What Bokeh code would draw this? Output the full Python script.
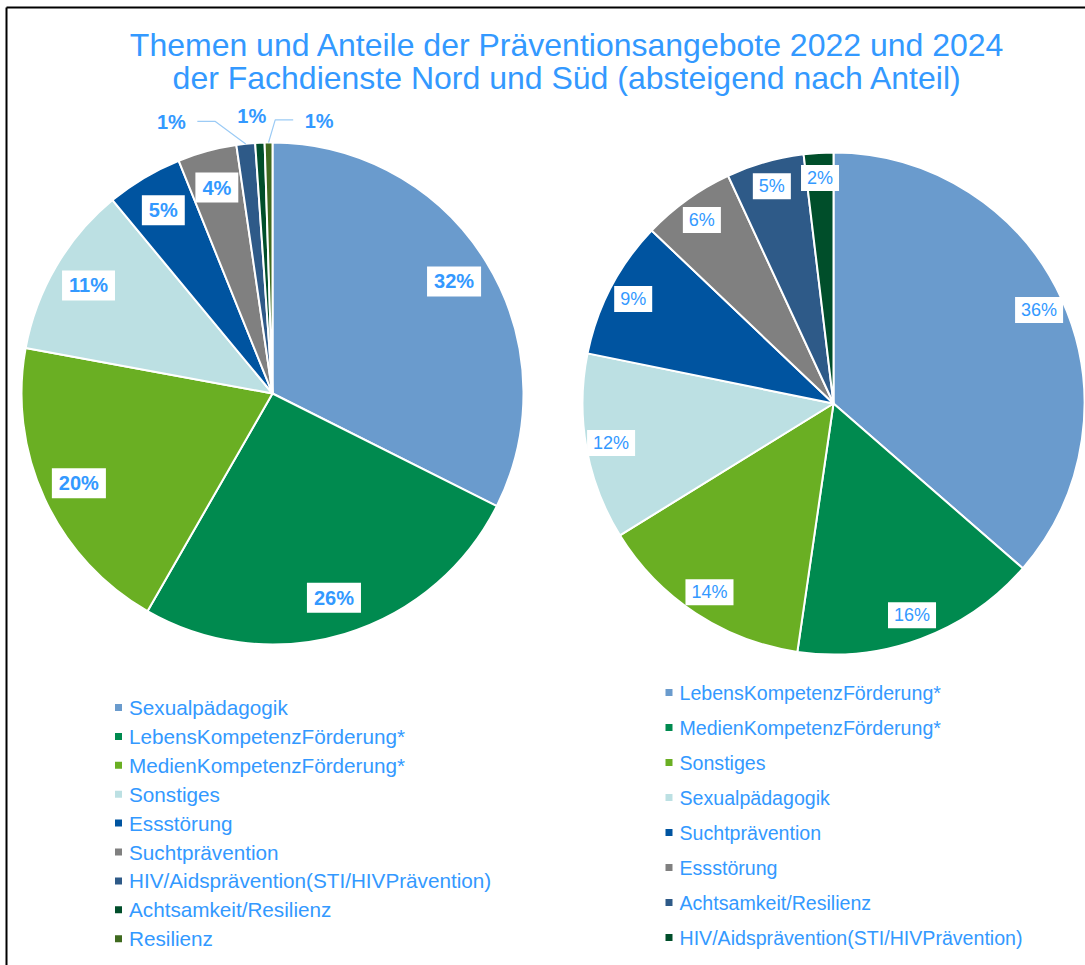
import math
from bokeh.plotting import figure
from bokeh.models import Range1d, ColumnDataSource
from bokeh.core.properties import value
from bokeh.embed import file_html
from bokeh.resources import INLINE

# ---------------- data ----------------
title_lines = ["Themen und Anteile der Präventionsangebote 2022 und 2024",
               "der Fachdienste Nord und Süd (absteigend nach Anteil)"]

cats_2022 = ["Sexualpädagogik", "LebensKompetenzFörderung*", "MedienKompetenzFörderung*",
             "Sonstiges", "Essstörung", "Suchtprävention",
             "HIV/Aidsprävention(STI/HIVPrävention)", "Achtsamkeit/Resilienz", "Resilienz"]
vals_2022 = [32.4, 25.9, 19.6, 11.1, 4.9, 3.8, 1.2, 0.6, 0.5]

cats_2024 = ["LebensKompetenzFörderung*", "MedienKompetenzFörderung*", "Sonstiges",
             "Sexualpädagogik", "Suchtprävention", "Essstörung",
             "Achtsamkeit/Resilienz", "HIV/Aidsprävention(STI/HIVPrävention)"]
vals_2024 = [36.4, 15.9, 13.9, 12.0, 8.9, 6.0, 5.0, 1.9]

palette = ["#6A9BCD", "#008A4F", "#6AAF23", "#BCE0E3", "#0054A0",
           "#808080", "#2E5A88", "#004E2A", "#3F6A1F"]

# ---------------- layout ----------------
W, H = 1085, 965
PAGE_H = 965
BLUE = "#3399FF"
FONT = "Liberation Sans"


def Y(py):  # page pixel y -> data y (y up)
    return PAGE_H - py


p = figure(width=W, height=H, output_backend="svg", toolbar_location=None,
           x_range=Range1d(0, W), y_range=Range1d(PAGE_H - H, PAGE_H),
           min_border=0)
p.axis.visible = False
p.grid.visible = False
p.outline_line_color = None
p.background_fill_color = "white"
p.border_fill_color = "white"

# frame lines (left and top)
p.segment(x0=[6, 6], y0=[Y(7), Y(7)], x1=[6, W], y1=[Y(PAGE_H), Y(7)],
          line_color="black", line_width=2)

# title
for i, t in enumerate(title_lines):
    p.text(x=[567], y=[Y(44 + 33 * i)], text=[t], text_align="center",
           text_baseline="middle", text_font=value(FONT), text_font_size="32px",
           text_color=BLUE)


def draw_pie(cx, cy, R, vals, label_frac, font_size, font_style, pad, outside_offsets):
    total = sum(vals)
    starts, ends, mids = [], [], []
    cum = 0.0
    for v in vals:
        a0 = cum / total
        cum += v
        a1 = cum / total
        starts.append(math.pi / 2 - 2 * math.pi * a0)
        ends.append(math.pi / 2 - 2 * math.pi * a1)
        mids.append(2 * math.pi * (a0 + a1) / 2)
    n = len(vals)
    src = ColumnDataSource(dict(start=starts, end=ends, color=palette[:n]))
    p.wedge(x=cx, y=cy, radius=R, start_angle="start", end_angle="end",
            direction="clock", fill_color="color", line_color="white",
            line_width=2, source=src)
    lx, ly, lt = [], [], []
    ox, oy, ot = [], [], []
    lxs, lys = [], []
    for i, v in enumerate(vals):
        txt = "%d%%" % int(v + 0.5)
        m = mids[i]
        if i in outside_offsets:
            rr = R * 1.09
            bx = cx + rr * math.sin(m)
            by = cy + rr * math.cos(m)
            offx, offy = outside_offsets[i]
            tx = bx + offx
            ty = by + offy
            ox.append(tx); oy.append(ty); ot.append(txt)
            if abs(offx) > 20:
                sgn = 1 if offx < 0 else -1
                ex = tx + sgn * 26
                elx = ex + sgn * 18
                rimx = cx + R * math.sin(m)
                rimy = cy + R * math.cos(m)
                lxs.append([ex, elx, rimx])
                lys.append([ty + 1, ty + 1, rimy])
        else:
            lx.append(cx + R * label_frac * math.sin(m))
            ly.append(cy + R * label_frac * math.cos(m))
            lt.append(txt)
    p.text(x=lx, y=ly, text=lt, text_align="center", text_baseline="middle",
           text_font=value(FONT), text_font_size=font_size,
           text_font_style=font_style, text_color=BLUE,
           background_fill_color="white", padding=pad)
    if ox:
        p.text(x=ox, y=oy, text=ot, text_align="center", text_baseline="middle",
               text_font=value(FONT), text_font_size=font_size,
               text_font_style=font_style, text_color=BLUE)
    if lxs:
        p.multi_line(xs=lxs, ys=lys, line_color="#9CCBF5", line_width=1.2)


draw_pie(272, Y(393), 251, vals_2022, 0.85, "20px", "bold", [7, 4],
         {6: (-72, -1), 7: (-7, 4), 8: (51, -1)})
draw_pie(833, Y(403), 251, vals_2024, 0.9, "18px", "normal", [6, 3], {})


def draw_legend(cats, sq_x, y0, dy, font_size):
    n = len(cats)
    ys = [Y(y0 + dy * i) for i in range(n)]
    p.scatter(x=[sq_x] * n, y=ys, marker="square", size=7,
              fill_color=palette[:n], line_color=None)
    p.text(x=[sq_x + 10.5] * n, y=ys, text=cats, text_align="left",
           text_baseline="middle", text_font=value(FONT),
           text_font_size=font_size, text_color=BLUE)


draw_legend(cats_2022, 118, 707, 28.9, "20.7px")
draw_legend(cats_2024, 668.5, 692, 35.0, "19.6px")

open("out.html", "w").write(file_html(p, INLINE))
